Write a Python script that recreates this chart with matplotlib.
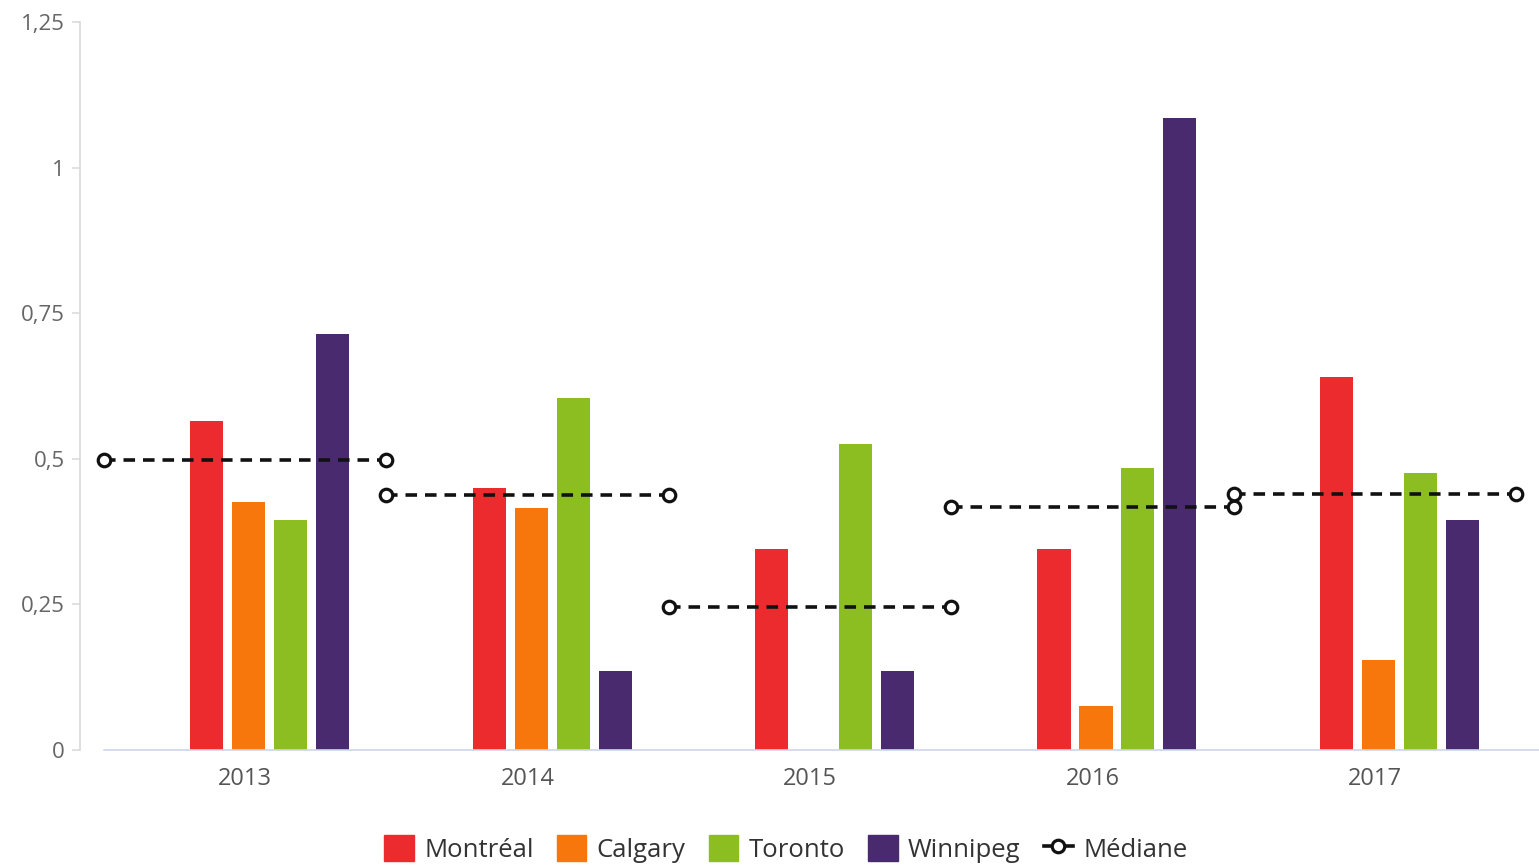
import numpy as np
import matplotlib.pyplot as plt
from matplotlib.ticker import FuncFormatter
from matplotlib.lines import Line2D

# valeurs
years = ['2013', '2014', '2015', '2016', '2017']
montreal = [0.565, 0.45, 0.345, 0.345, 0.64]
calgary = [0.425, 0.415, 0.0, 0.075, 0.155]
toronto = [0.395, 0.605, 0.525, 0.485, 0.475]
winnipeg = [0.715, 0.135, 0.135, 1.085, 0.395]
mediane = [0.498, 0.438, 0.245, 0.417, 0.44]

names = ['Montréal', 'Calgary', 'Toronto', 'Winnipeg']
colors = ['#EC2B2E', '#F8770C', '#8CBE22', '#4A2A6E']
series = [montreal, calgary, toronto, winnipeg]

plt.rcParams['font.family'] = ['Open Sans', 'DejaVu Sans']

fig = plt.figure(figsize=(15.39, 8.66), dpi=100)
ax = fig.add_axes([104 / 1539, 1 - 750 / 866, 1 - 104 / 1539, (750 - 22) / 866])

x = np.arange(len(years))
width = 0.117
step = 0.1487
first = -0.136
for k, (vals, name, col) in enumerate(zip(series, names, colors)):
    ax.bar(x + first + k * step, vals, width=width, color=col, label=name, zorder=2)

# médiane : un segment par année, sur toute la largeur de la catégorie
for i, m in enumerate(mediane):
    ax.plot([i - 0.5, i + 0.5], [m, m], color='#111111', lw=2.6, ls=(0, (3.2, 2.2)),
            marker='o', markersize=9, markerfacecolor='white', markeredgecolor='#111111',
            markeredgewidth=2.3, zorder=3, clip_on=False)

ax.set_xlim(-0.5, -0.5 + (1539 - 104) / 282.4)
ax.set_ylim(0, 1.25)
ax.set_xticks(x)
ax.set_xticklabels(years)
ax.set_yticks([0, 0.25, 0.5, 0.75, 1, 1.25])
ax.yaxis.set_major_formatter(FuncFormatter(lambda v, p: ('%g' % v).replace('.', ',')))

for s in ['top', 'right']:
    ax.spines[s].set_visible(False)
ax.spines['left'].set_position(('outward', 17))
ax.spines['left'].set_color('#d8d8d8')
ax.spines['bottom'].set_color('#ccd6eb')
ax.spines['left'].set_linewidth(1.2)
ax.spines['bottom'].set_linewidth(1.2)
ax.tick_params(axis='x', length=0, pad=12, labelsize=17, labelcolor='#555555')
ax.tick_params(axis='y', length=6, width=1.1, color='#d8d8d8', pad=5, labelsize=16, labelcolor='#666666')

handles = [plt.Rectangle((0, 0), 1, 1, color=c) for c in colors]
handles.append(Line2D([], [], color='#111111', lw=2.6, marker='o', markersize=9,
                      markerfacecolor='white', markeredgecolor='#111111', markeredgewidth=2.3))
fig.legend(handles, names + ['Médiane'], loc='center', bbox_to_anchor=(786 / 1539, 1 - 849 / 866),
           ncol=5, frameon=False, fontsize=18.5, handlelength=1.15, handleheight=1.15,
           handletextpad=0.4, columnspacing=0.9, labelcolor='#333333')

fig.savefig('out.png', dpi=100)
